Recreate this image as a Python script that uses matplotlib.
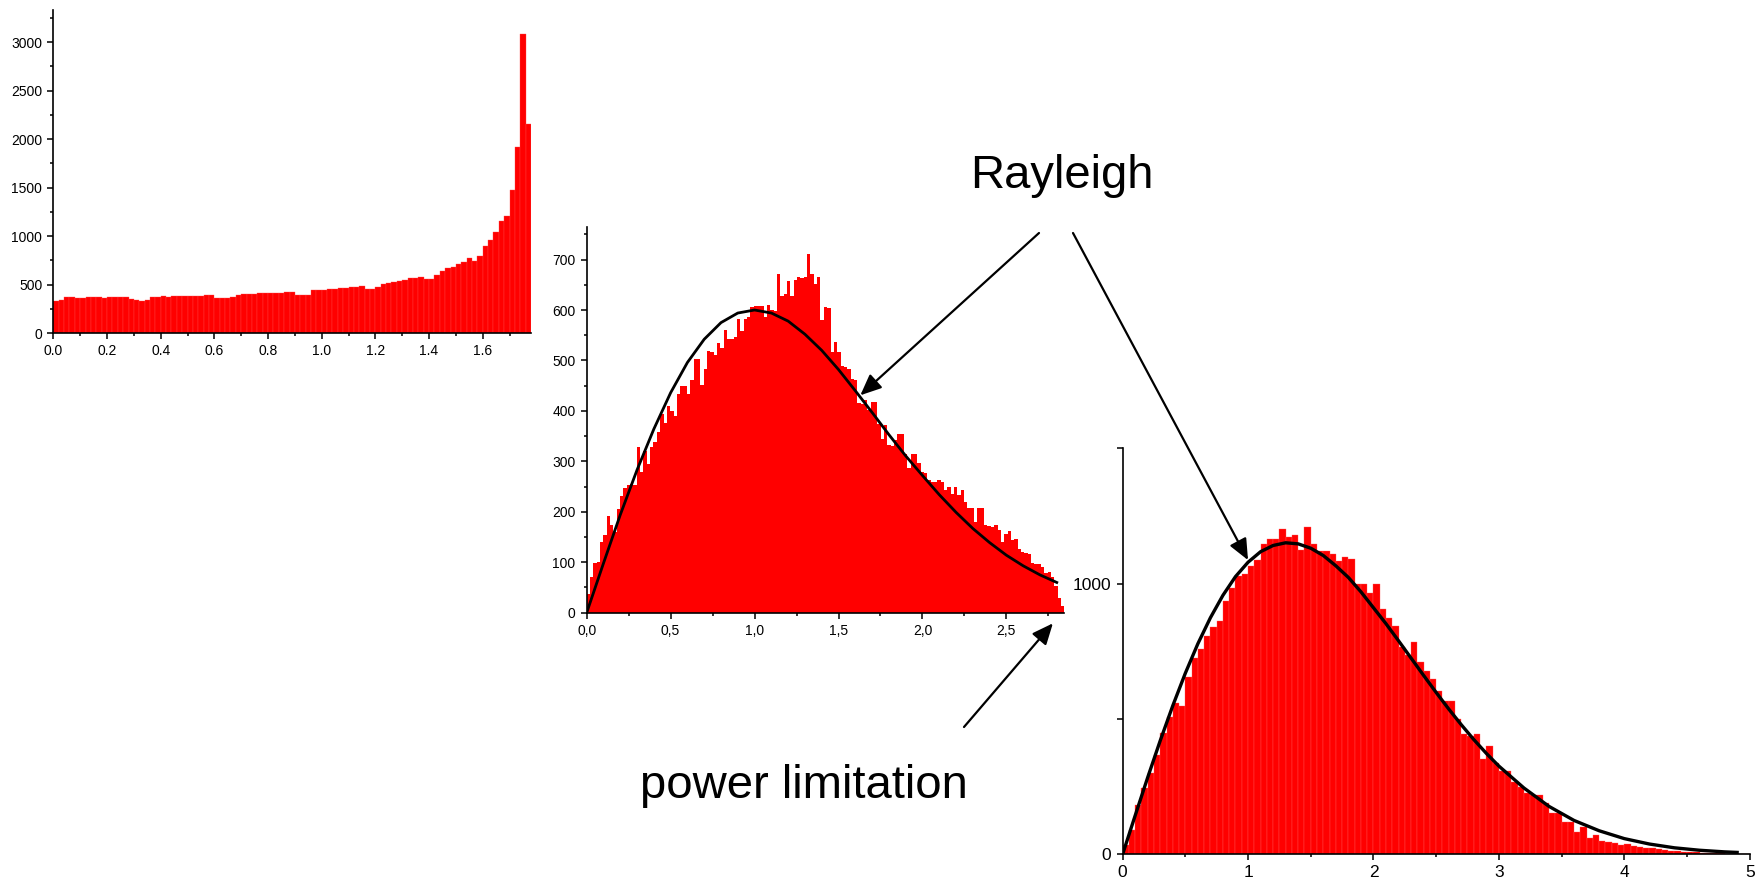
import numpy as np
import matplotlib
matplotlib.use('Agg')
import matplotlib.pyplot as plt

plt.rcParams['font.family'] = ['Liberation Sans', 'DejaVu Sans']

# left panel: narrow bins, sharp peak at the end
p1_range = (0.0, 1.78)
p1_counts = [333, 343, 374, 374, 367, 367, 374, 374, 374, 367,
             374, 374, 374, 374, 353, 343, 336, 340, 377, 377,
             384, 377, 384, 384, 384, 384, 384, 384, 391, 391,
             367, 360, 364, 374, 394, 405, 405, 405, 412, 412,
             412, 418, 418, 425, 422, 394, 394, 394, 442, 446,
             446, 456, 460, 466, 470, 477, 480, 487, 453, 456,
             473, 508, 518, 528, 538, 552, 566, 573, 580, 559,
             559, 600, 645, 669, 683, 713, 737, 775, 744, 796,
             899, 960, 1043, 1152, 1207, 1475, 1917, 3080, 2157]
p1_xticks = [0.0, 0.2, 0.4, 0.6, 0.8, 1.0, 1.2, 1.4, 1.6]
p1_yticks = [0, 500, 1000, 1500, 2000, 2500, 3000]

# middle panel: power limited histogram with Rayleigh fit
p2_range = (0.0, 2.845)
p2_counts = [37, 70, 98, 101, 141, 154, 192, 174, 160, 205,
             231, 248, 253, 256, 254, 328, 279, 321, 295, 328,
             338, 359, 394, 376, 410, 400, 390, 433, 449, 449,
             433, 461, 502, 503, 452, 484, 519, 517, 511, 535,
             524, 560, 542, 542, 546, 583, 559, 583, 587, 606,
             608, 608, 608, 587, 610, 600, 598, 672, 628, 631,
             658, 628, 660, 666, 664, 666, 711, 672, 652, 666,
             580, 606, 603, 516, 536, 516, 489, 487, 484, 464,
             461, 415, 413, 421, 401, 418, 418, 375, 345, 372,
             332, 330, 342, 355, 355, 314, 286, 314, 314, 296,
             279, 276, 263, 260, 260, 263, 260, 243, 250, 236,
             250, 233, 244, 220, 207, 207, 180, 207, 207, 174,
             172, 170, 174, 164, 141, 157, 161, 144, 146, 127,
             121, 118, 116, 98, 96, 96, 91, 78, 81, 71,
             52, 30, 13]
p2_fit_x = [0.0, 0.1, 0.2, 0.3, 0.4, 0.5, 0.6, 0.7, 0.8, 0.9,
            1.0, 1.1, 1.2, 1.3, 1.4, 1.5, 1.6, 1.7, 1.8, 1.9,
            2.0, 2.1, 2.2, 2.3, 2.4, 2.5, 2.6, 2.7, 2.8]
p2_fit_y = [0, 98, 194, 283, 364, 436, 496, 542, 575, 594,
            600, 594, 578, 552, 520, 482, 440, 397, 353, 311,
            272, 234, 199, 167, 139, 114, 93, 75, 60]
p2_xticks = [0.0, 0.5, 1.0, 1.5, 2.0, 2.5]
p2_xticklabels = ['0,0', '0,5', '1,0', '1,5', '2,0', '2,5']
p2_yticks = [0, 100, 200, 300, 400, 500, 600, 700]

# right panel: unlimited histogram with Rayleigh fit
p3_range = (0.0, 5.0)
p3_counts = [34, 90, 182, 244, 299, 367, 447, 509, 558, 548,
             656, 724, 757, 807, 839, 862, 936, 985, 1030, 1034,
             1066, 1087, 1145, 1164, 1165, 1202, 1174, 1180, 1124, 1208,
             1145, 1121, 1121, 1108, 1085, 1100, 1091, 999, 999, 964,
             999, 906, 872, 844, 767, 736, 786, 712, 678, 647,
             605, 567, 567, 500, 443, 437, 445, 351, 401, 336,
             308, 308, 268, 250, 225, 219, 219, 188, 154, 151,
             121, 121, 84, 100, 59, 71, 49, 44, 41, 34,
             38, 31, 28, 25, 22, 18, 16, 14, 12, 10,
             9, 7, 6, 5, 4, 3, 2, 2, 1, 0]
p3_fit_x = [0.0, 0.1, 0.2, 0.3, 0.4, 0.5, 0.6, 0.7, 0.8, 0.9,
            1.0, 1.1, 1.2, 1.3, 1.4, 1.5, 1.6, 1.7, 1.8, 1.9,
            2.0, 2.1, 2.2, 2.3, 2.4, 2.5, 2.6, 2.7, 2.8, 2.9,
            3.0, 3.2, 3.4, 3.6, 3.8, 4.0, 4.2, 4.4, 4.6, 4.8, 4.9]
p3_fit_y = [0, 143, 284, 420, 549, 669, 778, 874, 957, 1026,
            1079, 1118, 1141, 1151, 1147, 1131, 1104, 1066, 1023, 970,
            911, 852, 789, 725, 661, 598, 537, 479, 424, 373,
            326, 245, 177, 125, 87, 58, 38, 24, 15, 9, 7]
p3_xticks = [0, 1, 2, 3, 4, 5]
p3_yticks = [0, 1000]

RED = '#ff0000'

fig = plt.figure(figsize=(17.56, 8.82), dpi=100)


def histo_axes(rect, counts, rng, ymax, lsize, edge=None):
    ax = fig.add_axes(rect)
    edges = np.linspace(rng[0], rng[1], len(counts) + 1)
    if edge:
        ax.bar(edges[:-1], counts, width=np.diff(edges), align='edge',
               color=RED, edgecolor=edge, linewidth=0.25)
    else:
        ax.bar(edges[:-1], counts, width=np.diff(edges), align='edge',
               color=RED, linewidth=0)
    ax.set_xlim(rng)
    ax.set_ylim(0, ymax)
    for s in ['top', 'right']:
        ax.spines[s].set_visible(False)
    for s in ['left', 'bottom']:
        ax.spines[s].set_linewidth(1.2)
    ax.tick_params(which='both', direction='out', width=1.1,
                   labelsize=lsize, colors='black')
    ax.tick_params(which='major', length=4.5)
    ax.tick_params(which='minor', length=2.5)
    return ax


# left panel
ax1 = histo_axes([0.0304, 0.6221, 0.2720, 0.3666], p1_counts, p1_range,
                 3330, 10, edge='#ff4a4a')
ax1.set_xticks(p1_xticks)
ax1.set_xticklabels([f'{t:.1f}' for t in p1_xticks])
ax1.set_xticks(np.arange(0.1, 1.78, 0.2), minor=True)
ax1.set_yticks(p1_yticks)
ax1.set_yticks(np.arange(250, 3330, 500), minor=True)

# middle panel
ax2 = histo_axes([0.3341, 0.3053, 0.2720, 0.4376], p2_counts, p2_range, 765, 10)
ax2.plot(p2_fit_x, p2_fit_y, color='black', lw=2.0, zorder=3)
ax2.set_xticks(p2_xticks)
ax2.set_xticklabels(p2_xticklabels)
ax2.set_xticks([0.25, 0.75, 1.25, 1.75, 2.25, 2.75], minor=True)
ax2.set_yticks(p2_yticks)
ax2.set_yticks(np.arange(50, 765, 100), minor=True)

# right panel
ax3 = histo_axes([0.6393, 0.0314, 0.3571, 0.4603], p3_counts, p3_range,
                 1500, 12.5, edge='#ff5a5a')
ax3.plot(p3_fit_x, p3_fit_y, color='black', lw=2.4, zorder=3)
ax3.set_xticks(p3_xticks)
ax3.set_xticks([0.5, 1.5, 2.5, 3.5, 4.5], minor=True)
ax3.set_yticks(p3_yticks)
ax3.set_yticks([500, 1500], minor=True)
ax3.tick_params(axis='y', which='minor', length=4.5)

# annotations
arrow = dict(arrowstyle='-|>,head_length=0.8,head_width=0.35', color='black',
             lw=1.6, mutation_scale=16, shrinkA=0, shrinkB=0)
ax2.annotate('', xy=(1.63, 431), xycoords='data',
             xytext=(1039, 882 - 233), textcoords='figure pixels',
             arrowprops=arrow, annotation_clip=False)
ax3.annotate('', xy=(1.0, 1087), xycoords='data',
             xytext=(1073, 882 - 233), textcoords='figure pixels',
             arrowprops=arrow, annotation_clip=False)
ax2.annotate('', xy=(2.777, -21), xycoords='data',
             xytext=(964, 882 - 727), textcoords='figure pixels',
             arrowprops=arrow, annotation_clip=False)

fig.text(1062 / 1756, 1 - 188 / 882, 'Rayleigh', ha='center', va='baseline',
         fontsize=34)
fig.text(804 / 1756, 1 - 798 / 882, 'power limitation', ha='center',
         va='baseline', fontsize=34)

fig.savefig('out.png', dpi=100)
